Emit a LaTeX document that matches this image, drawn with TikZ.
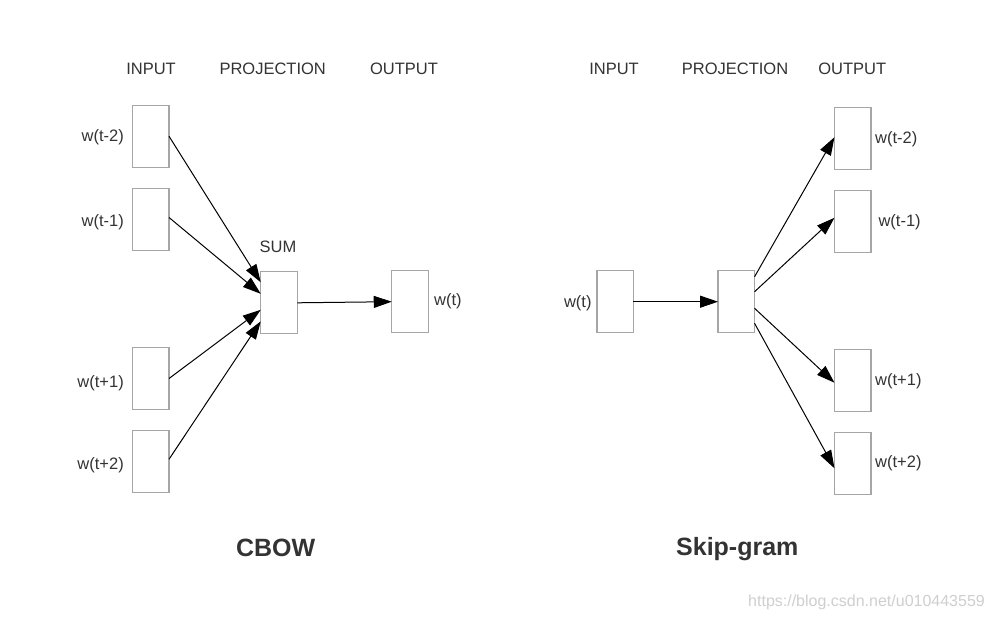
\documentclass[tikz,border=0pt]{standalone}
\usepackage{fontspec}
\setmainfont{Liberation Sans}
\usetikzlibrary{arrows.meta,calc}
\definecolor{boxgray}{HTML}{A6A6A6}
\definecolor{txtgray}{HTML}{333333}
\definecolor{ttlgray}{HTML}{333333}
\definecolor{wmgray}{HTML}{CFCFCF}
\begin{document}
\begin{tikzpicture}[x=1pt,y=-1pt,
  wbox/.style={draw=boxgray,line width=1.2pt,minimum width=36.5pt,minimum height=62pt,inner sep=0pt,outer sep=0pt},
  lbl/.style={text=txtgray,font=\fontsize{16.5}{18}\selectfont,inner sep=0pt},
  ttl/.style={text=ttlgray,font=\fontsize{25}{28}\selectfont\bfseries,inner sep=0pt},
  wm/.style={text=wmgray,font=\fontsize{16}{18}\selectfont,inner sep=0pt},
  conn/.style={line width=1pt,-{Triangle[length=18pt,width=12pt]}}]
\fill[white] (0,0) rectangle (992,621);
\useasboundingbox (0,0) rectangle (992,621);

% ---------- CBOW ----------
\node[lbl] (hin) at (151,69) {INPUT};
\node[lbl] (hpr) at (272.7,69) {PROJECTION};
\node[lbl] (hout) at (404,69) {OUTPUT};

\node[wbox] (in1) at (150.8,136.3) {};
\node[wbox] (in2) at (150.8,219.5) {};
\node[wbox] (in3) at (150.8,378.5) {};
\node[wbox] (in4) at (150.8,461.7) {};
\node[wbox] (sum) at (279,302.8) {};
\node[wbox] (out) at (410,301.7) {};

\node[lbl,anchor=east] (lin1) at (124,137.5) {w(t-2)};
\node[lbl,anchor=east] (lin2) at (124,222.5) {w(t-1)};
\node[lbl,anchor=east] (lin3) at (124,383) {w(t+1)};
\node[lbl,anchor=east] (lin4) at (124,465) {w(t+2)};
\node[lbl] (lsum) at (278,246.7) {SUM};
\node[lbl,anchor=west] (lout) at (434,301) {w(t)};

\draw[conn] (in1.east) -- ($(sum.west)+(0,-20.5)$);
\draw[conn] ($(in2.east)+(0,-2)$) -- ($(sum.west)+(0,-9)$);
\draw[conn] (in3.east) -- ($(sum.west)+(0,7)$);
\draw[conn] ($(in4.east)+(0,-2.5)$) -- ($(sum.west)+(0,18.5)$);
\draw[conn] (sum.east) -- (out.west);

\node[ttl] (tcbow) at (275.7,548) {CBOW};

% ---------- Skip-gram ----------
\node[lbl] (shin) at (614,69) {INPUT};
\node[lbl] (shpr) at (735,69) {PROJECTION};
\node[lbl] (shout) at (852.3,69) {OUTPUT};

\node[wbox] (sin) at (615.2,301.7) {};
\node[wbox] (spr) at (736.3,301.7) {};
\node[wbox] (so1) at (852.7,138.2) {};
\node[wbox] (so2) at (852.7,221.3) {};
\node[wbox] (so3) at (852.7,380.7) {};
\node[wbox] (so4) at (852.7,463.7) {};

\node[lbl,anchor=east] (lsin) at (591.7,303) {w(t)};
\node[lbl,anchor=west] (lso1) at (875,139) {w(t-2)};
\node[lbl,anchor=west] (lso2) at (878.3,222.5) {w(t-1)};
\node[lbl,anchor=west] (lso3) at (875,381.7) {w(t+1)};
\node[lbl,anchor=west] (lso4) at (875,463) {w(t+2)};

\draw[conn] (sin.east) -- (spr.west);
\draw[conn] ($(spr.east)+(0,-25)$) -- ($(so1.west)+(0,-1)$);
\draw[conn] ($(spr.east)+(0,-10)$) -- ($(so2.west)+(0,-3.5)$);
\draw[conn] ($(spr.east)+(0,6.6)$) -- ($(so3.west)+(0,2)$);
\draw[conn] ($(spr.east)+(0,21.6)$) -- ($(so4.west)+(0,4.6)$);

\node[ttl] (tskip) at (737.3,549.5) {Skip-gram};

\node[wm,anchor=west] (wmark) at (748,602.7) {https://blog.csdn.net/u010443559};
\end{tikzpicture}
\end{document}
